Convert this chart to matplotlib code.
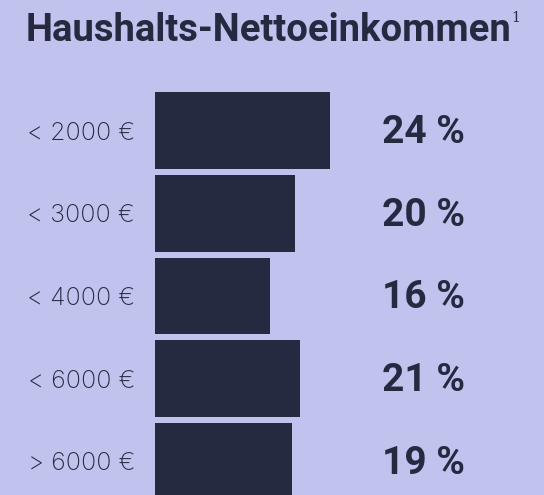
import matplotlib
matplotlib.use("Agg")
import matplotlib.pyplot as plt
import matplotlib.transforms as mtransforms

# ---- data ----
categories = ["< 2000 €", "< 3000 €", "< 4000 €", "< 6000 €", "> 6000 €"]
bar_values = [24.0, 19.2, 15.8, 19.9, 18.8]          # bar lengths
share_labels = ["24 %", "20 %", "16 %", "21 %", "19 %"]
title = "Haushalts-Nettoeinkommen"
footnote_mark = "1"

BG = "#c2c2ef"
DARK = "#252a40"

W, H = 544, 495
fig = plt.figure(figsize=(W / 100, H / 100), dpi=100, facecolor=BG)

px_per_unit_x = 7.29
ax_left_px = 155
ax = fig.add_axes([ax_left_px / W, 0, (W - ax_left_px) / W, 1])
ax.set_facecolor(BG)
ax.set_xlim(0, (W - ax_left_px) / px_per_unit_x)
pitch = 82.7
first_center = 130.65
ax.set_ylim((H - first_center) / pitch, -first_center / pitch)

ypos = list(range(len(categories)))
ax.barh(ypos, bar_values, height=76.7 / pitch, color=DARK, align="center")
for s in ax.spines.values():
    s.set_visible(False)
ax.set_xticks([])
ax.set_yticks([])

trans_fig_data = mtransforms.blended_transform_factory(fig.transFigure, ax.transData)
for y, cat, lab in zip(ypos, categories, share_labels):
    fig.text(135 / W, y + 0.03, cat, transform=trans_fig_data, ha="right", va="center",
             fontsize=18, family=["Inter", "Roboto", "DejaVu Sans"], fontweight="light",
             color=DARK)
    fig.text(382 / W, y + 0.02, lab, transform=trans_fig_data, ha="left", va="center",
             fontsize=28, family=["Roboto", "DejaVu Sans"], fontweight="bold", color=DARK)

fig.text(26 / W, 1 - 41 / H, title, ha="left", va="baseline",
         fontsize=27.5, family=["Roboto", "DejaVu Sans"], fontweight="bold", color=DARK)
fig.text(511 / W, 1 - 11 / H, footnote_mark, ha="left", va="top",
         fontsize=10, family=["DejaVu Serif"], color=DARK)

fig.savefig("out.png", dpi=100, facecolor=BG)
